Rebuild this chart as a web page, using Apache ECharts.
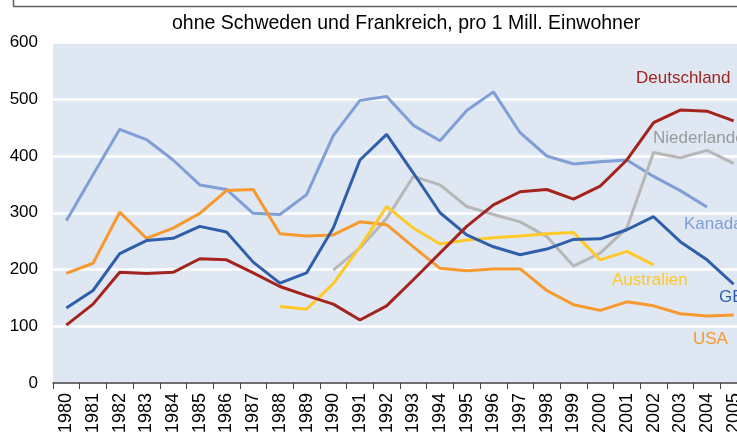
<!DOCTYPE html>
<html>
<head>
<meta charset="utf-8">
<script src="https://cdn.jsdelivr.net/npm/echarts@6/dist/echarts.min.js"></script>
<style>
html,body{margin:0;padding:0;background:#fff;}
#chart{width:737px;height:432px;}
</style>
</head>
<body>
<div id="chart"></div>
<script>
const years = ['1980','1981','1982','1983','1984','1985','1986','1987','1988','1989','1990','1991','1992','1993','1994','1995','1996','1997','1998','1999','2000','2001','2002','2003','2004','2005'];
const deutschland = [102,139,195,193,195,219,217,194,170,154,139,111,136,182,229,276,314,337,341,324,347,393,459,481,479,462];
const niederlande = [null,null,null,null,null,null,null,null,null,null,199,238,290,364,349,311,297,284,258,206,229,273,406,397,410,387];
const kanada = [286,367,447,429,393,349,341,299,297,332,436,498,505,454,427,480,513,441,400,386,390,393,364,339,310,null];
const gb = [132,163,228,251,255,276,266,213,176,194,273,393,438,370,300,261,240,226,236,253,254,270,293,249,217,174];
const australien = [null,null,null,null,null,null,null,null,135,130,175,240,311,273,245,252,256,259,263,265,217,232,208,null,null,null];
const usa = [193,211,301,255,273,299,339,341,263,259,261,284,279,240,202,198,201,201,163,138,128,143,136,122,118,120];
const yTicks = [0,100,200,300,400,500,600];

const chart = echarts.init(document.getElementById('chart'), null, {renderer:'canvas'});
const FONT = '"Liberation Sans", Arial, sans-serif';
function line(name, data, color){
  return {name, type:'line', data, symbol:'none', connectNulls:false,
    lineStyle:{color, width:3}, itemStyle:{color}, animation:false};
}
chart.setOption({
  animation:false,
  textStyle:{fontFamily:FONT},
  title:{text:'ohne Schweden und Frankreich, pro 1 Mill. Einwohner', left:167, top:9,
    textStyle:{fontSize:19.5, fontWeight:'normal', color:'#000', fontFamily:FONT}},
  grid:{left:53, top:42.5, bottom:49, right:-10, show:true, backgroundColor:'#dfe7f2', borderWidth:0,
    containLabel:false, outerBoundsMode:'none'},
  xAxis:{type:'category', data:years, boundaryGap:true,
    axisLine:{lineStyle:{color:'#404040', width:1.5}},
    axisTick:{show:true, length:6, lineStyle:{color:'#404040'}},
    axisLabel:{rotate:90, fontSize:18, color:'#000', margin:10, fontFamily:FONT, interval:0},
    splitLine:{show:false}},
  yAxis:{type:'value', min:0, max:600, interval:100,
    axisLine:{show:false}, axisTick:{show:false},
    axisLabel:{fontSize:17, color:'#000', margin:15, fontFamily:FONT,
      formatter:v => yTicks.includes(v) ? String(v) : ''},
    splitLine:{lineStyle:{color:'#ffffff', width:2.5}}},
  series:[
    line('Kanada', kanada, '#7f9fd6'),
    line('Niederlande', niederlande, '#b7b7b7'),
    line('USA', usa, '#f7992e'),
    line('Australien', australien, '#ffc929'),
    line('GB', gb, '#2f5fab'),
    line('Deutschland', deutschland, '#a3231f')
  ],
  graphic:[
    {type:'polyline', shape:{points:[[13.5,0],[13.5,6.5],[737,6.5]]}, style:{stroke:'#606060', lineWidth:1.5, fill:null}},
    {type:'text', left:636, top:70, style:{text:'Deutschland', fontSize:17, fill:'#a3231f', fontFamily:FONT}},
    {type:'text', left:653, top:130, style:{text:'Niederlande', fontSize:17, fill:'#9a9a9a', fontFamily:FONT}},
    {type:'text', left:684, top:216, style:{text:'Kanada', fontSize:17, fill:'#7f9fd6', fontFamily:FONT}},
    {type:'text', left:612, top:272, style:{text:'Australien', fontSize:17, fill:'#ffc929', fontFamily:FONT}},
    {type:'text', left:719, top:289, style:{text:'GB', fontSize:17, fill:'#2f5fab', fontFamily:FONT}},
    {type:'text', left:693, top:331, style:{text:'USA', fontSize:17, fill:'#f7992e', fontFamily:FONT}}
  ]
});
</script>
</body>
</html>
